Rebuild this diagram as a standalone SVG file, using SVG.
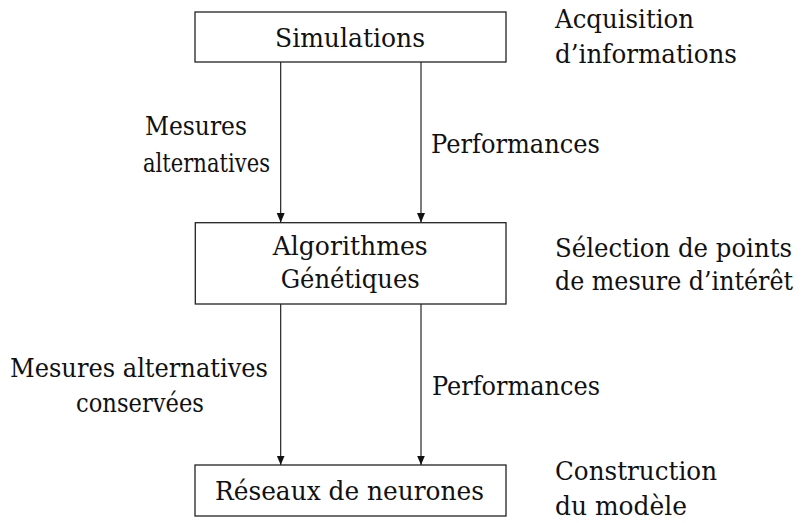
<svg xmlns="http://www.w3.org/2000/svg" width="801" height="523" viewBox="0 0 801 523">
<style>
text{font-family:"DejaVu Serif",serif;font-size:25.5px;fill:#111}
.box{fill:#fff;stroke:#222;stroke-width:1.3}
.conn{stroke:#111;stroke-width:1.1;fill:none;marker-end:url(#ah)}
</style>
<defs>
<marker id="ah" markerUnits="userSpaceOnUse" markerWidth="10" markerHeight="10" viewBox="0 0 10 10" refX="9.5" refY="5" orient="auto">
<path d="M0,1 L9.5,5 L0,9 Z" fill="#111"/>
</marker>
</defs>
<rect width="801" height="523" fill="#fff"/>
<g id="connectors">
<line class="conn" x1="280.7" y1="62" x2="280.7" y2="222.5"/>
<line class="conn" x1="421" y1="62" x2="421" y2="222.5"/>
<line class="conn" x1="280.7" y1="304" x2="280.7" y2="465"/>
<line class="conn" x1="421" y1="304" x2="421" y2="465"/>
</g>
<g id="node-simulations">
<rect class="box" x="195" y="12" width="311" height="50"/>
<text x="275" y="46.7" textLength="150" lengthAdjust="spacingAndGlyphs">Simulations</text>
</g>
<g id="node-algorithmes">
<rect class="box" x="195.3" y="222.7" width="310.7" height="81.3"/>
<text x="272.7" y="255" textLength="155" lengthAdjust="spacingAndGlyphs">Algorithmes</text>
<text x="280.7" y="288.3" textLength="139" lengthAdjust="spacingAndGlyphs">Génétiques</text>
</g>
<g id="node-reseaux">
<rect class="box" x="195" y="465" width="311" height="51"/>
<text x="215" y="500" textLength="269" lengthAdjust="spacingAndGlyphs">Réseaux de neurones</text>
</g>
<g id="labels">
<text x="145" y="135" textLength="102" lengthAdjust="spacingAndGlyphs">Mesures</text>
<text x="143" y="171.7" textLength="127" lengthAdjust="spacingAndGlyphs">alternatives</text>
<text x="431" y="153" textLength="169" lengthAdjust="spacingAndGlyphs">Performances</text>
<text x="10" y="376.7" textLength="258" lengthAdjust="spacingAndGlyphs">Mesures alternatives</text>
<text x="76" y="411.7" textLength="128" lengthAdjust="spacingAndGlyphs">conservées</text>
<text x="432" y="395" textLength="168" lengthAdjust="spacingAndGlyphs">Performances</text>
</g>
<g id="side-notes">
<text x="555" y="28.3" textLength="139" lengthAdjust="spacingAndGlyphs">Acquisition</text>
<text x="555" y="63" textLength="182" lengthAdjust="spacingAndGlyphs">d’informations</text>
<text x="555" y="256.7" textLength="237" lengthAdjust="spacingAndGlyphs">Sélection de points</text>
<text x="555" y="290" textLength="238" lengthAdjust="spacingAndGlyphs">de mesure d’intérêt</text>
<text x="555" y="480" textLength="162" lengthAdjust="spacingAndGlyphs">Construction</text>
<text x="555" y="515" textLength="132" lengthAdjust="spacingAndGlyphs">du modèle</text>
</g>
</svg>
